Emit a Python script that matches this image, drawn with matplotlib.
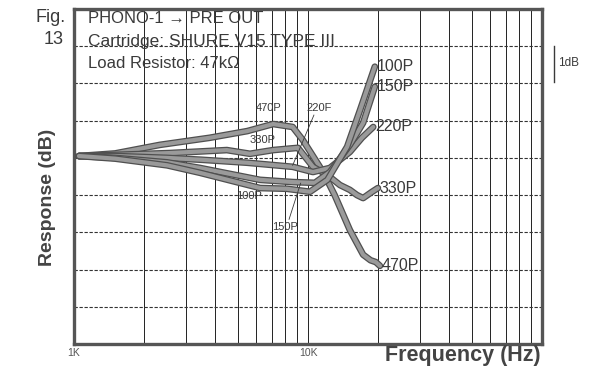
"""Phono-1 frequency response vs cartridge load capacitance."""
import matplotlib
matplotlib.use('Agg')
from matplotlib import pyplot as plt
import matplotlib.patheffects as pe

plt.rcParams['font.family'] = ['Liberation Sans', 'DejaVu Sans']

# frequency in kHz, response in dB
freq_470 = [1.05, 1.5, 2.33, 3.8, 5.5, 7.1, 8.6, 9.5, 10.5, 11.6, 13.0, 15.1, 17.2, 18.5, 19.5, 20.3]
resp_470 = [0.05, 0.12, 0.35, 0.54, 0.72, 0.91, 0.83, 0.48, 0.05, -0.38, -1.0, -1.94, -2.6, -2.75, -2.8, -2.9]

freq_330 = [1.05, 1.5, 2.57, 4.5, 5.65, 7.1, 9.06, 10.5, 12.1, 13.7, 15.1, 16.2, 17.2, 18.8, 19.9]
resp_330 = [0.05, 0.08, 0.13, 0.21, 0.11, 0.21, 0.27, -0.24, -0.46, -0.73, -0.86, -1.0, -1.08, -0.91, -0.81]

freq_220 = [1.05, 1.5, 2.5, 3.5, 5.49, 8.6, 10.5, 12.4, 15.1, 17.0, 19.0]
resp_220 = [0.05, 0.05, 0.0, -0.05, -0.13, -0.24, -0.38, -0.27, 0.16, 0.54, 0.83]

freq_150 = [1.05, 1.5, 2.5, 3.45, 6.24, 8.63, 10.7, 12.4, 15.1, 17.2, 19.3]
resp_150 = [0.05, 0.0, -0.12, -0.27, -0.59, -0.65, -0.67, -0.38, 0.35, 0.94, 1.91]

freq_100 = [1.05, 1.5, 2.5, 3.45, 6.24, 8.13, 10.2, 12.1, 14.7, 16.7, 19.3]
resp_100 = [0.05, -0.02, -0.2, -0.40, -0.81, -0.83, -0.91, -0.59, 0.30, 1.29, 2.45]

curves = [(freq_470, resp_470, '470P'), (freq_330, resp_330, '330P'),
          (freq_220, resp_220, '220P'), (freq_150, resp_150, '150P'),
          (freq_100, resp_100, '100P')]

ink = '#3a3a3a'

fig = plt.figure(figsize=(6.06, 3.68), dpi=100)
fig.set_facecolor('white')
ax = fig.add_axes([74/606, 1 - 344/368, 468/606, 335/368])
ax.set_xscale('log')
ax.set_xlim(1, 100)
ax.set_ylim(-5, 4)

# grid: solid verticals on every 1-2-3... step, dashed horizontals every 1 dB
ax.set_xticks([1, 10, 100])
ax.set_xticks([m * d for d in (1, 10) for m in range(2, 10)], minor=True)
ax.set_yticks(range(-5, 5))
ax.grid(True, axis='x', which='both', color='#222222', linewidth=0.7)
ax.grid(True, axis='y', color='#333333', linewidth=0.8, linestyle=(0, (3, 1.5)))
ax.tick_params(which='both', length=0, labelbottom=False, labelleft=False)
for sp in ax.spines.values():
    sp.set_linewidth(2.4)
    sp.set_color('#555555')

for f, r, name in curves:
    ax.plot(f, r, color='#9a9a9a', linewidth=3.0, solid_capstyle='round',
            solid_joinstyle='round',
            path_effects=[pe.Stroke(linewidth=4.8, foreground='#505050'), pe.Normal()],
            zorder=3)
    ax.text(f[-1] * 1.02, r[-1], name, fontsize=11.5, color=ink,
            ha='left', va='center', zorder=4)

# header text inside the plot
ax.text(0.03, 0.973, 'PHONO-1 \u2192 PRE OUT', transform=ax.transAxes,
        fontsize=12, color=ink, va='center')
ax.text(0.03, 0.904, 'Cartridge: SHURE V15 TYPE III', transform=ax.transAxes,
        fontsize=12.5, color=ink, va='center')
ax.text(0.03, 0.836, 'Load Resistor: 47k\u03a9', transform=ax.transAxes,
        fontsize=12, color=ink, va='center')

# small labels with leader lines in the middle of the bundle
ax.text(6.8, 1.35, '470P', fontsize=8, color=ink, ha='center', va='center')
ax.text(6.4, 0.48, '330P', fontsize=8, color=ink, ha='center', va='center')
ax.text(11.2, 1.35, '220F', fontsize=8, color=ink, ha='center', va='center')
ax.text(5.6, -1.02, '100P', fontsize=8, color=ink, ha='center', va='center')
ax.text(8.0, -1.85, '150P', fontsize=8, color=ink, ha='center', va='center')
ax.plot([10.6, 8.6], [1.15, -0.2], color=ink, linewidth=0.6, zorder=4)
ax.plot([8.3, 9.3], [-1.65, -0.68], color=ink, linewidth=0.6, zorder=4)

# 1 dB scale bar to the right of the frame
ax.plot([1.025, 1.025], [2.05, 3.0], transform=ax.get_yaxis_transform(),
        color=ink, linewidth=1.0, clip_on=False)
ax.text(1.035, 2.55, '1dB', transform=ax.get_yaxis_transform(),
        fontsize=8.5, color=ink, va='center', clip_on=False)

# axis labels
ax.text(1.0, -5.25, '1K', fontsize=7.5, color='#555555', ha='center', va='center', clip_on=False)
ax.text(10.0, -5.25, '10K', fontsize=7.5, color='#555555', ha='center', va='center', clip_on=False)
fig.text(541/606, 1 - 355/368, 'Frequency (Hz)', fontsize=15.5, fontweight='bold',
         color='#444444', ha='right', va='center')
fig.text(47/606, 1 - 197/368, 'Response (dB)', fontsize=14, fontweight='bold',
         color='#444444', ha='center', va='center', rotation=90)
fig.text(66/606, 1 - 18/368, 'Fig.', fontsize=13, color=ink, ha='right', va='center')
fig.text(64/606, 1 - 39/368, '13', fontsize=13, color=ink, ha='right', va='center')

fig.savefig('out.png', dpi=100)
